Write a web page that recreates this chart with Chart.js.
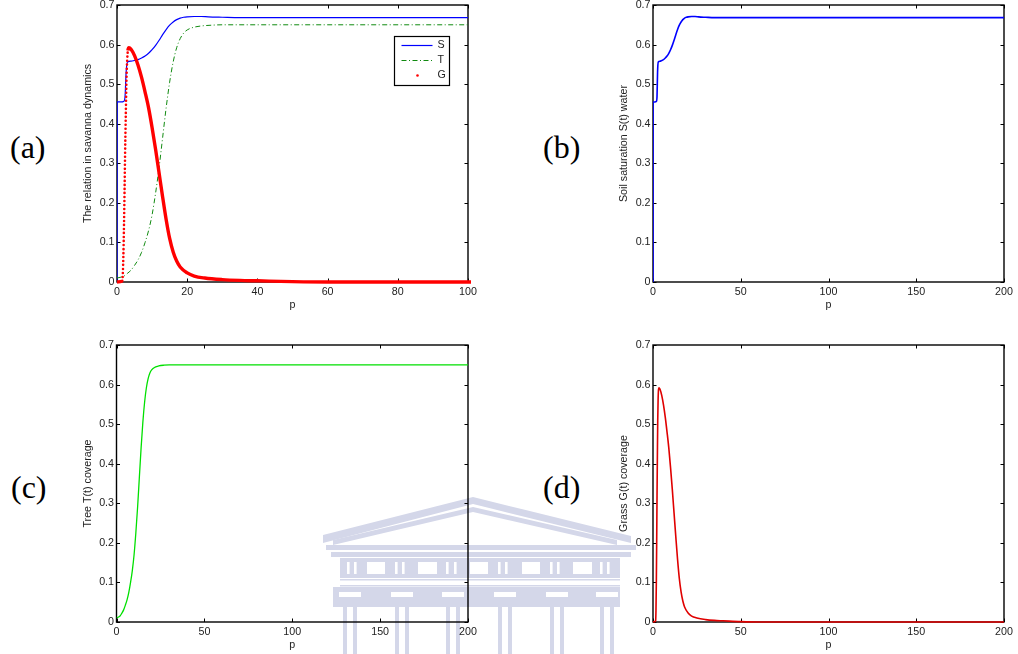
<!DOCTYPE html>
<html>
<head>
<meta charset="utf-8">
<script src="https://cdn.jsdelivr.net/npm/chart.js@4.4.1/dist/chart.umd.min.js"></script>
<style>
  html, body { margin: 0; padding: 0; background: #fff; }
  body { width: 1018px; height: 654px; position: relative; overflow: hidden; }
  .panel { position: absolute; width: 509px; height: 321px; }
  .tag { position: absolute; font-family: 'Liberation Serif', 'DejaVu Serif', serif; font-size: 32px; line-height: 32px; color: #000; }
  #wm { position: absolute; left: 0; top: 0; }
</style>
</head>
<body>
<!-- faint building watermark in the background -->
<svg id="wm" width="1018" height="654">
  <g fill="#d4d7e9">
    <polygon points="323,535 473,497 631,536 631,543 473,504 323,543"/>
    <polygon points="333,540 473,507 617,540 617,545 473,512 333,545"/>
    <rect x="326" y="545" width="310" height="5"/>
    <rect x="331" y="552" width="300" height="5"/>
    <rect x="340" y="558" width="280" height="20"/>
    <rect x="340" y="579" width="280" height="1.5"/>
    <rect x="340" y="585" width="280" height="1.5"/>
    <rect x="333" y="587" width="287" height="20"/>
    <rect x="343" y="607" width="4" height="47"/><rect x="353" y="607" width="4" height="47"/>
    <rect x="395" y="607" width="4" height="47"/><rect x="405" y="607" width="4" height="47"/>
    <rect x="446" y="607" width="4" height="47"/><rect x="456" y="607" width="4" height="47"/>
    <rect x="498" y="607" width="4" height="47"/><rect x="508" y="607" width="4" height="47"/>
    <rect x="550" y="607" width="4" height="47"/><rect x="560" y="607" width="4" height="47"/>
    <rect x="600" y="607" width="4" height="47"/><rect x="610" y="607" width="4" height="47"/>
  </g>
  <g fill="#fff">
    <rect x="367" y="562" width="18" height="12"/><rect x="418" y="562" width="19" height="12"/>
    <rect x="470" y="562" width="18" height="12"/><rect x="522" y="562" width="18" height="12"/>
    <rect x="573" y="562" width="19" height="12"/>
    <rect x="347" y="562" width="2.6" height="12"/><rect x="354" y="562" width="2.6" height="12"/>
    <rect x="395" y="562" width="2.6" height="12"/><rect x="402" y="562" width="2.6" height="12"/>
    <rect x="446" y="562" width="2.6" height="12"/><rect x="454" y="562" width="2.6" height="12"/>
    <rect x="498" y="562" width="2.6" height="12"/><rect x="505" y="562" width="2.6" height="12"/>
    <rect x="550" y="562" width="2.6" height="12"/><rect x="557" y="562" width="2.6" height="12"/>
    <rect x="600" y="562" width="2.6" height="12"/><rect x="607" y="562" width="2.6" height="12"/>
    <rect x="339" y="592" width="22" height="5"/><rect x="391" y="592" width="22" height="5"/>
    <rect x="442" y="592" width="22" height="5"/><rect x="494" y="592" width="22" height="5"/>
    <rect x="546" y="592" width="22" height="5"/><rect x="596" y="592" width="22" height="5"/>
  </g>
</svg>

<div class="tag" style="left:10px; top:131px">(a)</div>
<div class="tag" style="left:543px; top:131px">(b)</div>
<div class="tag" style="left:11px; top:471px">(c)</div>
<div class="tag" style="left:543px; top:471px">(d)</div>

<div class="panel" style="left:0; top:-10px"><canvas id="chartA" width="509" height="321"></canvas></div>
<div class="panel" style="left:509px; top:-10px"><canvas id="chartB" width="509" height="321"></canvas></div>
<div class="panel" style="left:0; top:330px"><canvas id="chartC" width="509" height="321"></canvas></div>
<div class="panel" style="left:509px; top:330px"><canvas id="chartD" width="509" height="321"></canvas></div>

<script>
// Soil water S(p)
const sP = [0, 0.05, 1, 2, 2.3, 2.6, 3, 4, 5, 6, 7, 8, 9, 10, 11, 12, 13, 14, 15, 16, 17, 18, 19, 20, 22, 24, 26, 30, 35, 60, 100, 200];
const sVal = [0, 0.455, 0.455, 0.457, 0.47, 0.53, 0.556, 0.558, 0.56, 0.562, 0.566, 0.571, 0.578, 0.587, 0.598, 0.611, 0.625, 0.638, 0.649, 0.657, 0.663, 0.667, 0.669, 0.670, 0.671, 0.671, 0.670, 0.669, 0.668, 0.668, 0.668, 0.668];

// Tree cover T(p)
const tP = [0, 2, 3, 4, 5, 6, 7, 8, 9, 10, 11, 12, 13, 14, 15, 16, 17, 18, 19, 20, 22, 24, 27, 30, 100, 200];
const tVal = [0.01, 0.015, 0.022, 0.03, 0.042, 0.056, 0.075, 0.1, 0.13, 0.17, 0.225, 0.29, 0.365, 0.44, 0.505, 0.556, 0.592, 0.615, 0.629, 0.637, 0.644, 0.647, 0.649, 0.65, 0.65, 0.65];

// Grass cover G(p)
const gP = [0, 1, 1.5, 1.7, 1.9, 2.1, 2.3, 2.5, 2.7, 2.9, 3.1, 3.4, 4, 5, 6, 7, 8, 9, 10, 11, 12, 13, 14, 15, 16, 17, 18, 20, 22, 25, 30, 35, 40, 50, 60, 200];
const gVal = [0, 0.001, 0.003, 0.03, 0.1, 0.2, 0.32, 0.42, 0.51, 0.56, 0.585, 0.592, 0.588, 0.572, 0.548, 0.517, 0.48, 0.44, 0.39, 0.335, 0.275, 0.215, 0.158, 0.11, 0.076, 0.053, 0.038, 0.023, 0.015, 0.01, 0.006, 0.004, 0.003, 0.001, 0, 0];

const yTicks = [0, 0.1, 0.2, 0.3, 0.4, 0.5, 0.6, 0.7];

const pts = (xs, ys) => xs.map((x, i) => ({ x: x, y: ys[i] }));
const font = { family: "'Liberation Sans', Arial, sans-serif", size: 10.7 };
const txt = '#222';

// matlab style box with inward ticks on all four sides
const axesBox = {
    id: 'axesBox',
    beforeDatasetsDraw(chart) {
        const { ctx, chartArea: a, scales: { x, y } } = chart;
        ctx.save();
        ctx.strokeStyle = '#000';
        ctx.lineWidth = 1;
        ctx.beginPath();
        x.ticks.forEach(t => {
            const px = Math.round(x.getPixelForValue(t.value)) + 0.5;
            ctx.moveTo(px, a.bottom); ctx.lineTo(px, a.bottom - 3.5);
            ctx.moveTo(px, a.top); ctx.lineTo(px, a.top + 3.5);
        });
        y.ticks.forEach(t => {
            const py = Math.round(y.getPixelForValue(t.value)) + 0.5;
            ctx.moveTo(a.left, py); ctx.lineTo(a.left + 3.5, py);
            ctx.moveTo(a.right, py); ctx.lineTo(a.right - 3.5, py);
        });
        ctx.stroke();
        ctx.lineWidth = 1.4;
        ctx.strokeRect(a.left, a.top, a.right - a.left, a.bottom - a.top);
        ctx.restore();
    }
};

// legend box inside panel (a)
const legendA = {
    id: 'legendA',
    afterDatasetsDraw(chart) {
        const { ctx, chartArea: a } = chart;
        const bx = Math.round(a.right - 74) + 0.5, by = Math.round(a.top + 31) + 0.5;
        ctx.save();
        ctx.fillStyle = '#fff';
        ctx.fillRect(bx, by, 55, 49);
        ctx.strokeStyle = '#000';
        ctx.lineWidth = 1.2;
        ctx.strokeRect(bx, by, 55, 49);
        ctx.font = font.size + 'px ' + font.family;
        ctx.textBaseline = 'middle';
        chart.data.datasets.forEach((ds, i) => {
            const yy = by + 9 + i * 15;
            if (ds.legendDot) {
                ctx.fillStyle = ds.borderColor;
                ctx.beginPath();
                ctx.arc(bx + 23, yy, 1.3, 0, Math.PI * 2);
                ctx.fill();
            } else {
                ctx.strokeStyle = ds.borderColor;
                ctx.lineWidth = ds.borderWidth;
                ctx.setLineDash(ds.borderDash || []);
                ctx.beginPath();
                ctx.moveTo(bx + 7, yy); ctx.lineTo(bx + 38, yy);
                ctx.stroke();
                ctx.setLineDash([]);
            }
            ctx.fillStyle = txt;
            ctx.fillText(ds.label, bx + 43, yy);
        });
        ctx.restore();
    }
};

function makeChart(id, datasets, o) {
    return new Chart(document.getElementById(id), {
        type: 'line',
        data: { datasets: datasets },
        options: {
            responsive: false,
            animation: false,
            devicePixelRatio: 1,
            layout: { padding: { left: o.padLeft, right: o.padRight, top: 15, bottom: 0 } },
            plugins: { legend: { display: false }, tooltip: { enabled: false } },
            elements: { point: { radius: 0 }, line: { cubicInterpolationMode: 'monotone' } },
            scales: {
                x: {
                    type: 'linear', min: 0, max: o.xMax,
                    ticks: { stepSize: o.xStep, font: font, color: txt, padding: 4, maxRotation: 0 },
                    grid: { display: false, drawTicks: false },
                    border: { display: false },
                    title: { display: true, text: 'p', font: font, color: txt, padding: 0 },
                    afterFit: s => { s.height = 29; }
                },
                y: {
                    type: 'linear', min: 0, max: 0.7,
                    afterBuildTicks: s => { s.ticks = yTicks.map(v => ({ value: v })); },
                    ticks: { font: font, color: txt, padding: 2.5, callback: v => v === 0 ? '0' : v.toFixed(1) },
                    grid: { display: false, drawTicks: false },
                    border: { display: false },
                    title: { display: true, text: o.yTitle, font: font, color: txt, padding: 0 },
                    afterFit: s => { s.width = o.yWidth; }
                }
            }
        },
        plugins: [axesBox].concat(o.extra || [])
    });
}

const dotted = c => c.p0.parsed.x >= 1.5 && c.p1.parsed.x <= 3.1;

// (a) all three together
makeChart('chartA', [
    { label: 'S', data: pts(sP, sVal), borderColor: '#0000ff', borderWidth: 1.2, order: 3 },
    { label: 'T', data: pts(tP, tVal), borderColor: '#108a10', borderWidth: 1, borderDash: [5, 2.5, 1, 2.5], order: 2 },
    {
        label: 'G', legendDot: true, data: pts(gP, gVal), borderColor: '#ff0000', borderWidth: 3.4, order: 1, clip: 3,
        segment: {
            borderDash: c => dotted(c) ? [0, 4] : undefined,
            borderWidth: c => dotted(c) ? 2.6 : undefined,
            borderCapStyle: c => dotted(c) ? 'round' : undefined
        }
    }
], { xMax: 100, xStep: 20, yTitle: 'The relation in savanna dynamics', padLeft: 81.6, yWidth: 35.4, padRight: 41, extra: [legendA] });

// (b) soil water
makeChart('chartB', [
    { label: 'S', data: pts(sP, sVal), borderColor: '#0000ff', borderWidth: 1.6 }
], { xMax: 200, xStep: 50, yTitle: 'Soil saturation S(t) water', padLeft: 108.6, yWidth: 35.4, padRight: 14 });

// (c) trees
makeChart('chartC', [
    { label: 'T', data: pts(tP, tVal), borderColor: '#00e000', borderWidth: 1.3 }
], { xMax: 200, xStep: 50, yTitle: 'Tree T(t) coverage', padLeft: 81.3, yWidth: 35.2, padRight: 41 });

// (d) grass
makeChart('chartD', [
    { label: 'G', data: pts(gP, gVal), borderColor: '#e00000', borderWidth: 1.6, clip: 2 }
], { xMax: 200, xStep: 50, yTitle: 'Grass G(t) coverage', padLeft: 108.6, yWidth: 35.4, padRight: 14 });
</script>
</body>
</html>
